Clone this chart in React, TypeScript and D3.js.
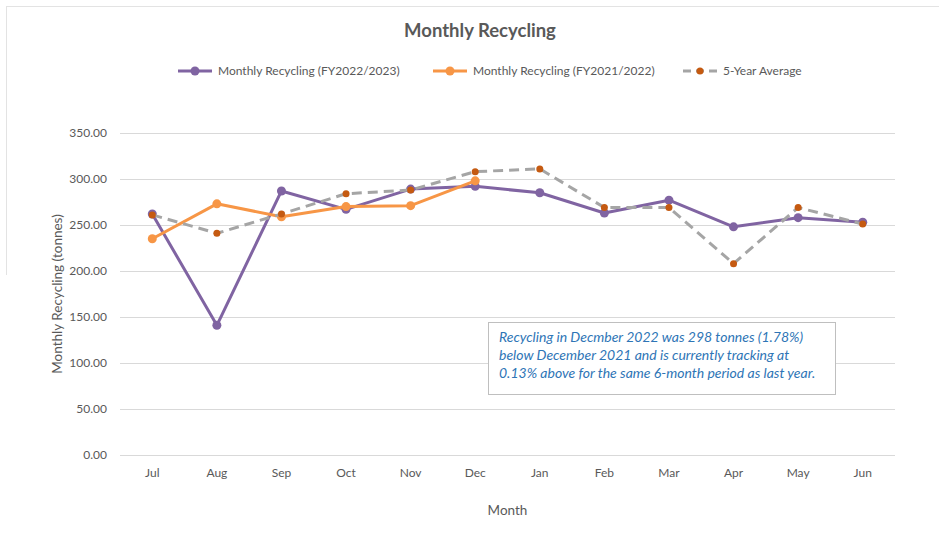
import React, { useEffect, useRef } from "react";
import * as d3 from "d3";

const months = ["Jul", "Aug", "Sep", "Oct", "Nov", "Dec", "Jan", "Feb", "Mar", "Apr", "May", "Jun"];
const fy2223 = [262, 141, 287, 267, 289, 292, 285, 263, 277, 248, 258, 253];
const fy2122 = [235, 273, 259, 270, 271, 298];
const fiveYearAvg = [261, 241, 262, 284, 288, 308, 311, 269, 269, 208, 269, 251];
const yTicks = [0, 50, 100, 150, 200, 250, 300, 350];
const noteLines = [
  "Recycling in Decmber 2022 was 298 tonnes (1.78%)",
  "below December 2021 and is currently tracking at",
  "0.13% above for the same 6-month period as last year.",
];

const W = 939;
const H = 539;
const FONT = "Lato, 'Open Sans', sans-serif";

export default function App() {
  const ref = useRef<SVGSVGElement>(null);

  useEffect(() => {
    const svg = d3.select(ref.current);
    svg.selectAll("*").remove();

    const margin = { top: 133, right: 44, bottom: 84, left: 120 };

    const x = d3
      .scaleBand()
      .domain(months)
      .range([margin.left, W - margin.right]);
    const cx = (m: string) => (x(m) as number) + x.bandwidth() / 2;

    const y = d3
      .scaleLinear()
      .domain([0, 350])
      .range([H - margin.bottom, margin.top]);

    // outer frame (partial, like the screenshot)
    svg.append("line").attr("x1", 6).attr("x2", W).attr("y1", 6.5).attr("y2", 6.5).attr("stroke", "#e3e3e3");
    svg.append("line").attr("x1", 6.5).attr("x2", 6.5).attr("y1", 6).attr("y2", 275).attr("stroke", "#e3e3e3");

    // grid
    svg
      .append("g")
      .selectAll("line")
      .data(yTicks)
      .join("line")
      .attr("x1", margin.left)
      .attr("x2", W - margin.right)
      .attr("y1", (d) => Math.round(y(d)) + 0.5)
      .attr("y2", (d) => Math.round(y(d)) + 0.5)
      .attr("stroke", "#d9d9d9")
      .attr("stroke-width", 1);

    // y labels
    svg
      .append("g")
      .selectAll("text")
      .data(yTicks)
      .join("text")
      .attr("x", margin.left - 13)
      .attr("y", (d) => y(d))
      .attr("dy", "0.35em")
      .attr("text-anchor", "end")
      .attr("font-family", FONT)
      .attr("font-size", 12)
      .attr("fill", "#595959")
      .text((d) => d3.format(".2f")(d));

    // x labels
    svg
      .append("g")
      .selectAll("text")
      .data(months)
      .join("text")
      .attr("x", (d) => cx(d))
      .attr("y", H - margin.bottom + 22)
      .attr("text-anchor", "middle")
      .attr("font-family", FONT)
      .attr("font-size", 12)
      .attr("fill", "#595959")
      .text((d) => d);

    // axis titles
    svg
      .append("text")
      .attr("x", (margin.left + W - margin.right) / 2)
      .attr("y", 515)
      .attr("text-anchor", "middle")
      .attr("font-family", FONT)
      .attr("font-size", 13.5)
      .attr("fill", "#595959")
      .text("Month");
    svg
      .append("text")
      .attr("transform", `translate(62,${y(175)}) rotate(-90)`)
      .attr("text-anchor", "middle")
      .attr("font-family", FONT)
      .attr("font-size", 13.5)
      .attr("fill", "#595959")
      .text("Monthly Recycling (tonnes)");

    // title
    svg
      .append("text")
      .attr("x", 480)
      .attr("y", 37)
      .attr("text-anchor", "middle")
      .attr("font-family", FONT)
      .attr("font-weight", "bold")
      .attr("font-size", 18.5)
      .attr("fill", "#595959")
      .text("Monthly Recycling");

    const line = d3
      .line<number>()
      .x((_, i) => cx(months[i]))
      .y((d) => y(d));

    const series = [
      { data: fiveYearAvg, stroke: "#a5a5a5", dash: "10,6", marker: "#c55a11", r: 3.5 },
      { data: fy2122, stroke: "#f79646", dash: null, marker: "#f79646", r: 4.5 },
      { data: fy2223, stroke: "#8064a2", dash: null, marker: "#8064a2", r: 4.5 },
    ];
    // purple first, then orange, dashed average on top
    const order = [series[2], series[1], series[0]];
    order.forEach((s) => {
      svg
        .append("path")
        .datum(s.data)
        .attr("fill", "none")
        .attr("stroke", s.stroke)
        .attr("stroke-width", 3)
        .attr("stroke-dasharray", s.dash)
        .attr("stroke-linejoin", "round")
        .attr("d", line);
      svg
        .append("g")
        .selectAll("circle")
        .data(s.data)
        .join("circle")
        .attr("cx", (_, i) => cx(months[i]))
        .attr("cy", (d) => y(d))
        .attr("r", s.r)
        .attr("fill", s.marker);
    });

    // legend
    const legend = [
      { label: "Monthly Recycling (FY2022/2023)", x: 178, s: series[2] },
      { label: "Monthly Recycling (FY2021/2022)", x: 433, s: series[1] },
      { label: "5-Year Average", x: 683, s: series[0] },
    ];
    legend.forEach((l) => {
      const g = svg.append("g").attr("transform", `translate(${l.x},71)`);
      g.append("line")
        .attr("x1", 0)
        .attr("x2", 34)
        .attr("stroke", l.s.stroke)
        .attr("stroke-width", 3)
        .attr("stroke-dasharray", l.s.dash ? "8,5" : null);
      g.append("circle").attr("cx", 17).attr("r", l.s.r).attr("fill", l.s.marker);
      g.append("text")
        .attr("x", 40)
        .attr("dy", "0.35em")
        .attr("font-family", FONT)
        .attr("font-size", 12)
        .attr("fill", "#595959")
        .text(l.label);
    });

    // annotation box
    const note = svg.append("g").attr("transform", "translate(488,322)");
    note
      .append("rect")
      .attr("x", 0.5)
      .attr("y", 0.5)
      .attr("width", 347)
      .attr("height", 72)
      .attr("fill", "#fff")
      .attr("stroke", "#bfbfbf");
    note
      .selectAll("text")
      .data(noteLines)
      .join("text")
      .attr("x", 11)
      .attr("y", (_, i) => 20 + i * 18)
      .attr("font-family", FONT)
      .attr("font-style", "italic")
      .attr("font-size", 14)
      .attr("fill", "#2e75b6")
      .text((d) => d);
  }, []);

  return (
    <svg
      ref={ref}
      width={W}
      height={H}
      style={{ position: "absolute", left: 0, top: 0, background: "#fff" }}
    />
  );
}
